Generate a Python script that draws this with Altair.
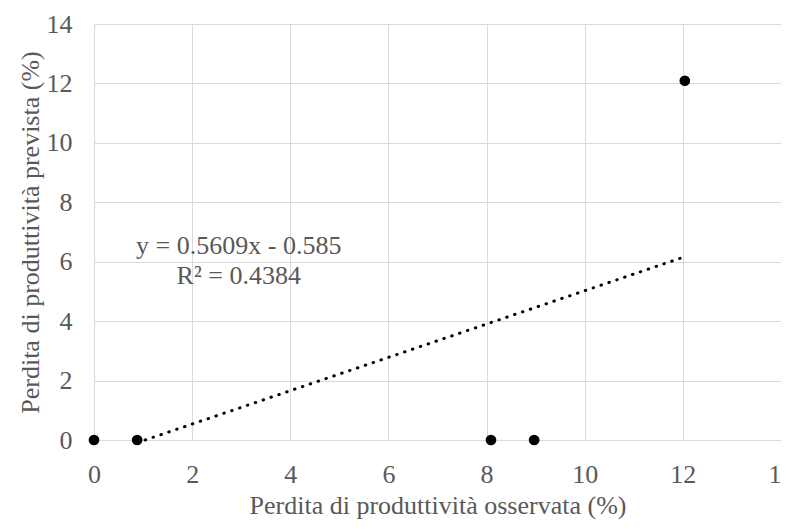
import altair as alt
import pandas as pd

# Observed points
obs_x = [0.0, 0.88, 8.09, 8.97, 12.04]
obs_y = [0.0, 0.0, 0.0, 0.0, 12.09]

# Linear trendline shown on chart: y = 0.5609x - 0.585
slope = 0.5609
intercept = -0.585
trend_x = [-intercept / slope, 11.98]
trend_y = [slope * v + intercept for v in trend_x]

eq_lines = ["y = 0.5609x - 0.585", "R² = 0.4384"]
eq_x = [2.95, 2.95]
eq_y = [6.54, 5.53]

ticks = [0, 2, 4, 6, 8, 10, 12, 14]

pts = pd.DataFrame({"x": obs_x, "y": obs_y})
trend = pd.DataFrame({"x": trend_x, "y": trend_y})
eq = pd.DataFrame({"x": eq_x, "y": eq_y, "t": eq_lines})

FONT = "Liberation Serif"
GRAY = "#595959"
GRID = "#d9d9d9"
FS = 26

xscale = alt.Scale(domain=[0, 14], nice=False)
yscale = alt.Scale(domain=[0, 14], nice=False)

xaxis = alt.Axis(title="Perdita di produttività osservata (%)", values=ticks,
                 grid=True, gridColor=GRID, domainColor=GRID, ticks=False,
                 labelPadding=21, titlePadding=5, labelFontSize=FS, titleFontSize=FS,
                 labelFont=FONT, titleFont=FONT, labelColor=GRAY, titleColor=GRAY,
                 titleFontWeight="normal", labelFlush=False)
yaxis = alt.Axis(title="Perdita di produttività prevista (%)", values=ticks,
                 grid=True, gridColor=GRID, domain=False, ticks=False,
                 labelPadding=22, titlePadding=3, labelFontSize=FS, titleFontSize=FS,
                 labelFont=FONT, titleFont=FONT, labelColor=GRAY, titleColor=GRAY,
                 titleFontWeight="normal", labelFlush=False)

base_pts = alt.Chart(pts).mark_circle(color="black", size=115, opacity=1).encode(
    x=alt.X("x:Q", scale=xscale, axis=xaxis),
    y=alt.Y("y:Q", scale=yscale, axis=yaxis),
)

line = alt.Chart(trend).mark_line(color="black", strokeWidth=3,
                                   strokeDash=[0.5, 7.8], strokeCap="round").encode(
    x=alt.X("x:Q", scale=xscale),
    y=alt.Y("y:Q", scale=yscale),
)

text = alt.Chart(eq).mark_text(font=FONT, fontSize=FS, color=GRAY,
                               align="center", baseline="middle").encode(
    x=alt.X("x:Q", scale=xscale),
    y=alt.Y("y:Q", scale=yscale),
    text="t:N",
)

frame = alt.Chart(pd.DataFrame({"a": [0]})).mark_rule(color=GRID, strokeWidth=1).encode(
    x=alt.value(-94), x2=alt.value(700), y=alt.value(-20.5)
)

chart = alt.layer(line, base_pts, text, frame).properties(
    width=687, height=416,
    autosize=alt.AutoSizeParams(type="none"),
    padding={"left": 86, "top": 16, "right": 0, "bottom": 81},
).configure_view(stroke=None)

chart.save("out.html", embed_options={"renderer": "svg", "actions": False})
